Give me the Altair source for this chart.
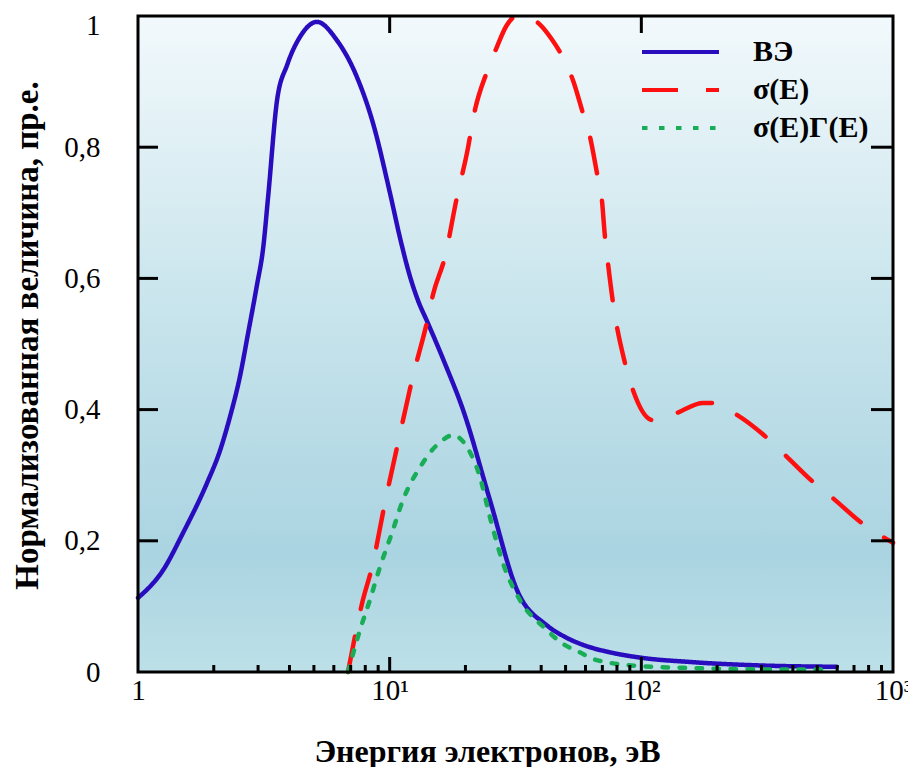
import altair as alt
import pandas as pd

# ---------------- data ----------------
series_names = ["ВЭ", "σ(E)", "σ(E)Γ(E)"]
series_colors = ["#2a0cbf", "#ff1010", "#19ad58"]

ve_energy = [1.0, 1.257, 1.51, 1.88, 2.12, 2.32, 2.54, 2.74, 2.97, 3.14, 3.29, 3.57,
             3.91, 4.40, 5.14, 6.17, 7.41, 8.58, 10.03, 10.99, 12.0, 13.0, 14.07, 16.59,
             19.55, 25.03, 32.05, 42.17, 50.0, 60.0, 75.0, 98.7, 160.0, 296.0, 598.0]
ve_value = [0.113, 0.155, 0.212, 0.288, 0.338, 0.389, 0.450, 0.517, 0.590, 0.645, 0.725, 0.872,
            0.925, 0.968, 0.991, 0.963, 0.907, 0.837, 0.730, 0.662, 0.605, 0.565, 0.535, 0.470,
            0.400, 0.262, 0.125, 0.071, 0.053, 0.040, 0.030, 0.022, 0.015, 0.010, 0.008]

sigma_energy = [6.83, 7.83, 8.51, 9.58, 10.79, 12.27, 14.2, 14.86, 16.59, 18.51, 20.28, 21.83,
                24.36, 26.69, 29.0, 32.05, 35.5, 39.55, 44.0, 47.5, 53.5, 58.6, 62.5, 66.6,
                69.7, 71.7, 73.7, 77.1, 86.1, 92.6, 111.2, 138.5, 175.7, 192.6, 239.8, 315.5,
                372.0, 480.6, 577.0, 752.4, 1000.0]
sigma_value = [0.0, 0.110, 0.160, 0.258, 0.349, 0.445, 0.540, 0.575, 0.633, 0.724, 0.791, 0.857,
               0.915, 0.953, 0.984, 1.0, 0.998, 0.987, 0.965, 0.945, 0.902, 0.852, 0.816, 0.761,
               0.720, 0.663, 0.623, 0.564, 0.471, 0.430, 0.384, 0.395, 0.410, 0.410, 0.392,
               0.357, 0.331, 0.290, 0.265, 0.227, 0.197]

sg_energy = [6.83, 7.62, 8.35, 9.15, 10.21, 11.29, 12.2, 13.2, 14.5, 15.84, 17.85, 20.28, 22.85,
             25.03, 28.2, 32.9, 42.17, 47.5, 57.0, 64.2, 75.0, 98.7, 160.3, 296.0, 546.0]
sg_value = [0.0, 0.064, 0.110, 0.160, 0.212, 0.262, 0.290, 0.312, 0.335, 0.350, 0.361, 0.343,
            0.297, 0.236, 0.166, 0.110, 0.064, 0.046, 0.030, 0.020, 0.014, 0.009, 0.006, 0.004,
            0.004]

x_tick_values = [1, 10, 100, 1000]
x_tick_labels = ["1", "10¹", "10²", "10³"]
y_tick_values = [0, 0.2, 0.4, 0.6, 0.8, 0.986]
x_minor = [2, 3, 4, 5, 6, 7, 8, 9, 20, 30, 40, 50, 60, 70, 80, 90,
           200, 300, 400, 500, 600, 700, 800, 900]
x_major_inner = [10, 100]
y_inner = [0.2, 0.4, 0.6, 0.8]

# ---------------- layout ----------------
W, H = 755, 656
DEC = W / 3.0  # pixels per decade
SERIF = "Liberation Serif"

rows = []
for n, es, vs in [(series_names[0], ve_energy, ve_value),
                  (series_names[1], sigma_energy, sigma_value),
                  (series_names[2], sg_energy, sg_value)]:
    for e, v in zip(es, vs):
        rows.append({"E": e, "value": v, "series": n})
df = pd.DataFrame(rows)

# inward tick marks (in data units)
tick_rows = []
for y in y_inner:
    tick_rows.append({"x": 1, "x2": 10 ** (20 / DEC), "y": y, "y2": y})
    tick_rows.append({"x": 10 ** (3 - 22 / DEC), "x2": 1000, "y": y, "y2": y})
for x in x_major_inner:
    tick_rows.append({"x": x, "x2": x, "y": 0, "y2": 15 / H})
    tick_rows.append({"x": x, "x2": x, "y": 1 - 17 / H, "y2": 1})
for x in x_minor:
    tick_rows.append({"x": x, "x2": x, "y": 0, "y2": 7 / H})
ticks_df = pd.DataFrame(tick_rows)

frame_df = pd.DataFrame([{"x": 1, "x2": 1000, "y": 0, "y2": 1}])

label_expr_x = " : ".join(
    [f"datum.value == {v} ? '{l}'" for v, l in zip(x_tick_values, x_tick_labels)]) + " : ''"

x_axis = alt.Axis(
    values=x_tick_values, labelExpr=label_expr_x, ticks=False, domain=False, grid=False,
    labelFont=SERIF, labelFontSize=29, labelColor="black", labelPadding=4,
    labelFlush=False, labelOverlap=False,
    title="Энергия электронов, эВ", titleFont=SERIF, titleFontSize=32, titleFontWeight="bold",
    titleColor="black", titleX=349, titleY=89, titleAnchor="start", titleAlign="center",
    titleBaseline="alphabetic")
y_axis = alt.Axis(
    values=y_tick_values,
    labelExpr="datum.value == 0 ? '0' : datum.value > 0.95 ? '1' : replace(format(datum.value, '.1f'), '.', ',')",
    ticks=False, domain=False, grid=False,
    labelFont=SERIF, labelFontSize=29, labelColor="black", labelPadding=38,
    labelFlush=False, labelOverlap=False,
    title="Нормализованная величина, пр.е.", titleFont=SERIF, titleFontSize=33,
    titleFontWeight="bold", titleColor="black", titleX=-111, titleY=319,
    titleAngle=270, titleAlign="center", titleBaseline="middle")

x_scale = alt.Scale(type="log", domain=[1, 1000], nice=False)
y_scale = alt.Scale(domain=[0, 1], nice=False, zero=False)

gradient = alt.LinearGradient(
    gradient="linear", x1=0, y1=0, x2=0, y2=1,
    stops=[alt.GradientStop(offset=0, color="#f2f9fc"),
           alt.GradientStop(offset=0.45, color="#c8e4ec"),
           alt.GradientStop(offset=0.82, color="#aad4e1"),
           alt.GradientStop(offset=1, color="#bde0e8")])

bg = alt.Chart(frame_df).mark_rect(fill=gradient, stroke=None).encode(
    x=alt.X("x:Q", scale=x_scale, axis=x_axis),
    x2="x2:Q",
    y=alt.Y("y:Q", scale=y_scale, axis=y_axis),
    y2="y2:Q")

lines = alt.Chart(df).mark_line(strokeWidth=4.5, interpolate="monotone", strokeCap="round").encode(
    x=alt.X("E:Q", scale=x_scale, axis=x_axis),
    y=alt.Y("value:Q", scale=y_scale, axis=y_axis),
    color=alt.Color("series:N", scale=alt.Scale(domain=series_names, range=series_colors),
                    legend=alt.Legend(
                        title=None, orient="none", legendX=502, legendY=26,
                        symbolType="stroke", symbolSize=77 * 77, symbolStrokeWidth=4,
                        clipHeight=20, rowPadding=8, labelOffset=32,
                        labelFont=SERIF, labelFontSize=30, labelFontWeight="bold",
                        labelColor="black", padding=0, offset=0, labelLimit=300)),
    strokeDash=alt.StrokeDash("series:N",
                              scale=alt.Scale(domain=series_names,
                                              range=[[1, 0], [36, 28], [5.5, 11.5]]),
                              legend=None),
    order=alt.Order("E:Q"),
    detail="series:N")

ticks = alt.Chart(ticks_df).mark_rule(color="black", strokeWidth=3).encode(
    x=alt.X("x:Q", scale=x_scale, axis=x_axis), x2="x2:Q",
    y=alt.Y("y:Q", scale=y_scale, axis=y_axis), y2="y2:Q")

frame = alt.Chart(frame_df).mark_rect(fillOpacity=0, stroke="black", strokeWidth=3).encode(
    x=alt.X("x:Q", scale=x_scale, axis=x_axis), x2="x2:Q",
    y=alt.Y("y:Q", scale=y_scale, axis=y_axis), y2="y2:Q")

chart = alt.layer(bg, lines, ticks, frame).properties(
    width=W, height=H,
    autosize=alt.AutoSizeParams(type="none"),
    padding={"left": 130, "top": 8, "right": 15, "bottom": 95},
    background="white",
).configure_view(stroke=None)

chart.save("out.html", embed_options={"renderer": "svg", "actions": False})
